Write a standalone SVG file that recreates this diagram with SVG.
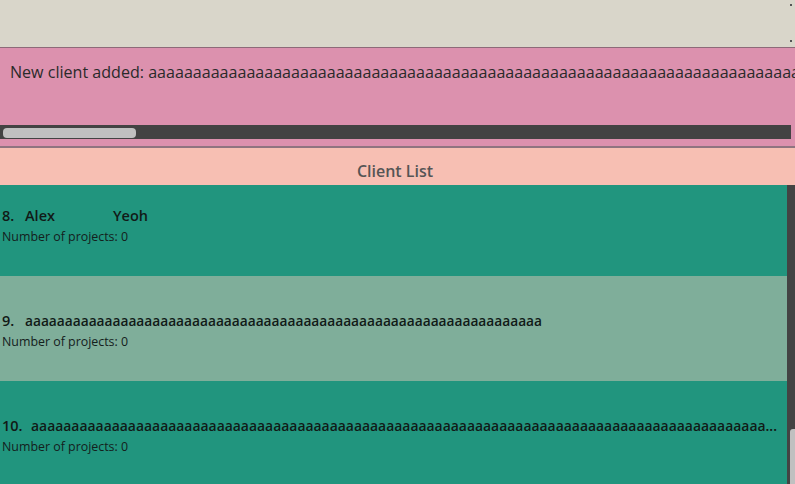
<svg xmlns="http://www.w3.org/2000/svg" width="795" height="484" viewBox="0 0 795 484">
<style>
.msg{font-family:"Open Sans","Liberation Sans",sans-serif;font-size:16px;fill:#2a2a2a}
.title{font-family:"Open Sans","Liberation Sans",sans-serif;font-size:16px;font-weight:600;fill:#555555}
.name{font-family:"Open Sans","Liberation Sans",sans-serif;font-size:14.5px;font-weight:600;fill:#111a17}
.sub{font-family:"Open Sans","Liberation Sans",sans-serif;font-size:12.4px;fill:#14201c}
.bar{fill:#434343}
.thumb{fill:#c0c0c0}
</style>
<defs>
<clipPath id="msgclip"><rect x="0" y="48" width="795" height="77"/></clipPath>
</defs>
<rect x="0" y="0" width="795" height="484" fill="#21957e"/>
<g id="command-box">
<rect x="0" y="0" width="795" height="47" fill="#d9d6ca"/>
<rect x="790" y="4" width="2" height="2" fill="#555"/>
<rect x="790" y="40" width="2" height="2" fill="#555"/>
</g>
<g id="result-display">
<rect x="0" y="47" width="795" height="101" fill="#dc91ae"/>
<rect x="0" y="47" width="795" height="1" fill="#8d6a78"/>
<text class="msg" x="10" y="78" textLength="790" lengthAdjust="spacingAndGlyphs" clip-path="url(#msgclip)">New client added: aaaaaaaaaaaaaaaaaaaaaaaaaaaaaaaaaaaaaaaaaaaaaaaaaaaaaaaaaaaaaaaaaaaaaaaaa</text>
<rect class="bar" x="0" y="125" width="791" height="14"/>
<rect class="thumb" x="3" y="128" width="133" height="10" rx="4"/>
<rect x="0" y="146" width="795" height="2" fill="#8f7480"/>
</g>
<g id="client-list-header">
<rect x="0" y="148" width="795" height="37" fill="#f7bfb3"/>
<text class="title" x="395" y="177" text-anchor="middle">Client List</text>
</g>
<g id="client-8">
<rect x="0" y="185" width="787" height="91" fill="#21957e"/>
<text class="name" y="221"><tspan x="2">8.</tspan><tspan x="25">Alex</tspan><tspan x="113">Yeoh</tspan></text>
<text class="sub" x="2" y="241">Number of projects: 0</text>
</g>
<g id="client-9">
<rect x="0" y="276" width="787" height="105" fill="#7fae9a"/>
<text class="name" y="326"><tspan x="2">9.</tspan><tspan x="25" textLength="517" lengthAdjust="spacingAndGlyphs">aaaaaaaaaaaaaaaaaaaaaaaaaaaaaaaaaaaaaaaaaaaaaaaaaaaaaaaaaaaaaaaaa</tspan></text>
<text class="sub" x="2" y="346">Number of projects: 0</text>
</g>
<g id="client-10">
<rect x="0" y="381" width="787" height="103" fill="#21957e"/>
<text class="name" y="431"><tspan x="2">10.</tspan><tspan x="31" textLength="746" lengthAdjust="spacingAndGlyphs">aaaaaaaaaaaaaaaaaaaaaaaaaaaaaaaaaaaaaaaaaaaaaaaaaaaaaaaaaaaaaaaaaaaaaaaaaaaaaaaaaaaaaaaaaaa...</tspan></text>
<text class="sub" x="2" y="451">Number of projects: 0</text>
</g>
<g id="list-scrollbar">
<rect class="bar" x="787" y="185" width="8" height="299"/>
<rect class="thumb" x="790" y="429" width="8" height="58" rx="3"/>
</g>
<g id="connectors"></g>
</svg>
